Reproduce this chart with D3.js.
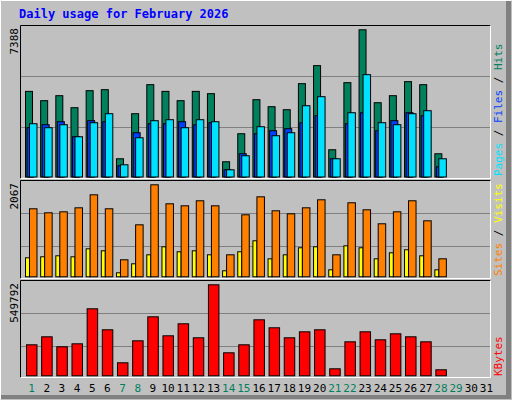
<!DOCTYPE html>
<html><head><meta charset="utf-8">
<script src="https://cdn.jsdelivr.net/npm/d3@7"></script>
<style>body{margin:0;background:#fff}</style></head>
<body><svg id="c" width="512" height="400"></svg>
<script>
const days = d3.range(1, 32);
const weekendDays = [1,7,8,14,15,21,22,28,29];
const hits  = [4297,3830,4081,3478,4332,4383,915,3176,4634,4297,3830,4297,4182,764,2171,3880,3528,3377,4684,5589,1367,4734,7388,3729,4081,4785,4634,1166];
const files = [2473,2624,2774,2020,2825,2774,563,2221,2674,2674,2774,2624,2724,362,1166,2171,2322,2423,2724,3076,915,2674,3226,2322,2825,3226,3076,513];
const pages = [2674,2473,2624,2020,2724,3176,613,1970,2825,2875,2473,2875,2774,362,1066,2523,2071,2221,3578,4031,915,3226,5136,2724,2624,3176,3327,915];
const visits= [427,449,472,449,629,584,90,292,494,674,562,584,494,135,562,809,404,494,652,674,157,696,652,404,539,607,472,157];
const sites = [1528,1438,1460,1550,1842,1528,382,1168,2067,1640,1595,1708,1595,494,1393,1797,1483,1415,1550,1730,494,1663,1505,1191,1460,1708,1258,404];
const kbytes= [187280,235600,175200,193300,404800,277900,78540,211400,356400,241700,314200,229600,549792,139000,187280,338300,290000,229600,265800,277900,42290,205400,265800,217500,253700,235600,205400,36250];
const title = "Daily usage for February 2026";

const svg = d3.select("#c");
const F = "'DejaVu Sans Mono', monospace";
// background frame
svg.append("rect").attr("width",512).attr("height",400).attr("fill","#c0c0c0");
svg.append("path").attr("d","M0.5,399.5V0.5H511.5").attr("stroke","#fff").attr("fill","none");
svg.append("rect").attr("x",506).attr("y",1).attr("width",5).attr("height",398).attr("fill","#808080");
svg.append("rect").attr("x",1).attr("y",395).attr("width",510).attr("height",4).attr("fill","#808080");
svg.append("text").attr("x",19).attr("y",18).attr("fill","#0000ff").attr("font-family",F)
  .attr("font-weight","bold").attr("font-size",12).text(title);

const x = d3.scaleBand().domain(days).range([21, 491]).paddingInner(0);
const panels = [
  {y0:25,y1:179,max:7388},
  {y0:180,y1:279,max:2067},
  {y0:280,y1:378,max:549792}
];
panels.forEach(p=>{
  svg.append("rect").attr("x",20.5).attr("y",p.y0+0.5).attr("width",470).attr("height",p.y1-p.y0-1)
    .attr("fill","#c0c0c0").attr("stroke","none");
  svg.append("path").attr("d",`M20.5,${p.y1-0.5}V${p.y0+0.5}H490.5`).attr("stroke","#000").attr("fill","none");
  svg.append("path").attr("d",`M20.5,${p.y1-0.5}H490.5V${p.y0+0.5}`).attr("stroke","#fff").attr("fill","none");
});
function yScale(base, top, max){ return d3.scaleLinear().domain([0,max]).range([base, top]); }
const y1 = yScale(176.5, 29.3, 7388);
const y2 = yScale(276.3, 184.3, 2067);
const y3 = yScale(375.3, 284.3, 549792);
function grid(ys, vals){
  vals.forEach(v=>svg.append("line").attr("x1",21).attr("x2",490).attr("y1",Math.round(ys(v))+0.5).attr("y2",Math.round(ys(v))+0.5).attr("stroke","#808080"));
}
grid(y1,[7388*0.337,7388*0.68]);
grid(y2,[2067*0.326,2067*0.685]);
grid(y3,[549792*0.319,549792*0.681]);

function bars(data, ys, dx, w, color){
  svg.append("g").selectAll("rect").data(data).join("rect")
    .attr("x",(d,i)=>x(i+1)+dx+0.5).attr("width",w)
    .attr("y",d=>ys(d)+0.5).attr("height",d=>ys(0)-ys(d))
    .attr("fill",color).attr("stroke","#000").attr("stroke-width",1);
}
bars(hits,y1,4,7,"#00805c");
bars(files,y1,5.5,7,"#0040ff");
bars(pages,y1,8,7.5,"#00e0ff");
bars(visits,y2,4,4,"#ffff00");
bars(sites,y2,8,7.5,"#ff8000");
bars(kbytes,y3,5,10.5,"#ff0000");

// day labels
svg.append("g").selectAll("text").data(days).join("text")
  .attr("x",d=>x(d)+x.bandwidth()/2+3).attr("y",392).attr("text-anchor","middle")
  .attr("font-family",F).attr("font-size",11)
  .attr("fill",d=>weekendDays.includes(d)?"#00805c":"#000").text(d=>d);

// max labels
[[7388,25],[2067,180],[549792,280]].forEach(([v,y])=>{
  svg.append("text").attr("transform",`translate(18,${y+3}) rotate(-90)`).attr("text-anchor","end")
    .attr("font-family",F).attr("font-size",11).attr("fill","#000").text(v);
});
// right legends
function legend(parts, yb){
  const t = svg.append("text").attr("transform",`translate(502,${yb}) rotate(-90)`)
    .attr("font-family",F).attr("font-size",11);
  parts.forEach(([s,c])=>t.append("tspan").attr("fill",c).text(s));
}
legend([["Pages","#00e0ff"],[" / ","#000"],["Files","#0040ff"],[" / ","#000"],["Hits","#00805c"]],176);
legend([["Sites","#ff8000"],[" / ","#000"],["Visits","#ffff00"]],276);
legend([["KBytes","#ff0000"]],376);
</script></body></html>
